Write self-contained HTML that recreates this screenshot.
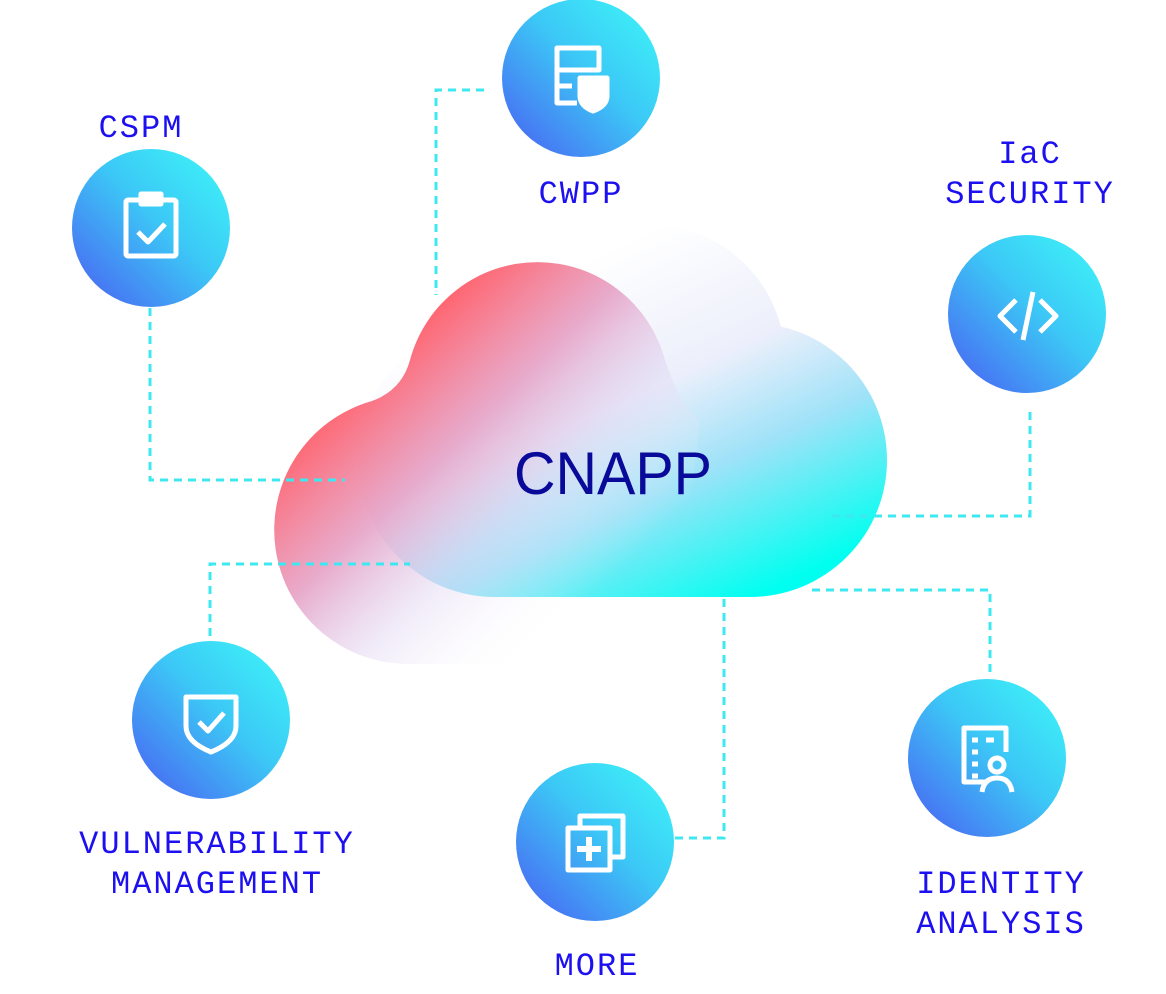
<!DOCTYPE html>
<html><head><meta charset="utf-8"><style>
html,body{margin:0;padding:0;background:#fff;}
svg{display:block}
.l{font-family:"Liberation Mono",monospace;font-size:32px;fill:#1c10f0;letter-spacing:2px;text-anchor:middle}
</style></head><body>
<svg width="1166" height="994" viewBox="0 0 1166 994">
<defs>
<linearGradient id="cg" x1="0" y1="1" x2="1" y2="0">
<stop offset="0" stop-color="#4a5cf2"/><stop offset="0.55" stop-color="#3cc8f6"/><stop offset="1" stop-color="#3ef8f8"/>
</linearGradient>
<linearGradient id="bgB" gradientUnits="userSpaceOnUse" x1="610" y1="250" x2="770" y2="590">
<stop offset="0" stop-color="#ffffff"/><stop offset="0.38" stop-color="#eceffb"/><stop offset="0.64" stop-color="#9fe2f8"/><stop offset="1" stop-color="#00fff0"/>
</linearGradient>
<linearGradient id="bgA" gradientUnits="userSpaceOnUse" x1="390" y1="350" x2="650" y2="620">
<stop offset="0" stop-color="#ff6570" stop-opacity="1"/><stop offset="0.3" stop-color="#e6a2c6" stop-opacity="0.9"/><stop offset="0.55" stop-color="#dcd0f0" stop-opacity="0.4"/><stop offset="0.85" stop-color="#ffffff" stop-opacity="0"/>
</linearGradient>
</defs>
<g fill="url(#bgB)">
<circle cx="650" cy="360" r="135"/>
<circle cx="750" cy="460" r="137"/>
<circle cx="495" cy="460" r="137"/>
<rect x="495" y="440" width="255" height="157"/>
</g>
<path fill="url(#bgA)" d="M410 664 A134 134 0 0 1 372 401 Q402 390 410 360 A132 132 0 0 1 665 360 Q680 405 700 420 Q690 540 640 664 Z"/>
<text x="613" y="494" font-family="Liberation Sans,sans-serif" font-size="60" fill="#0a0a9a" text-anchor="middle" textLength="198" lengthAdjust="spacingAndGlyphs">CNAPP</text>
<g fill="none" stroke="#3de8f0" stroke-width="3" stroke-dasharray="8 6">
<path d="M484 90 H436 V295"/>
<path d="M150 308 V480 H345"/>
<path d="M1030 412 V516 H830"/>
<path d="M210 636 V564 H410"/>
<path d="M675 838 H724 V597"/>
<path d="M990 672 V590 H812"/>
</g>
<g fill="url(#cg)">
<circle cx="581" cy="78" r="79"/>
<circle cx="151" cy="228" r="79"/>
<circle cx="1027" cy="314" r="79"/>
<circle cx="211" cy="720" r="79"/>
<circle cx="595" cy="842" r="79"/>
<circle cx="987" cy="758" r="79"/>
</g>
<g fill="none" stroke="#fff" stroke-width="5" stroke-linejoin="round">
<path d="M577 103 H557 V48 H599 V70 H557 M557 86 H572"/>
<path d="M580 78 H607 V96 Q607 106 593 111 Q580 106 580 96 Z" fill="#fff"/>
<rect x="126" y="200" width="50" height="56" rx="2"/>
<rect x="141" y="194" width="20" height="10" fill="#fff"/>
<path d="M138 232 L148 242 L165 224"/>
<path d="M1016 300 L1000 316 L1016 332 M1040 300 L1056 316 L1040 332 M1033 292 L1023 340"/>
<path d="M186 697 H236 V726 Q236 742 211 752 Q186 742 186 726 Z"/>
<path d="M199 722 L208 731 L224 713"/>
<path d="M580 828 V816 H623 V857 H610"/>
<rect x="568" y="828" width="42" height="42"/>
<path d="M589 837 V861 M577 849 H601" stroke-width="6"/>
<path d="M985 782 H964 V728 H1006 V752"/>
<path d="M972 740 H978 M986 740 H994 M972 752 H978 M972 764 H978 M972 776 H978"/>
<circle cx="997" cy="765" r="7"/>
<path d="M982 792 Q984 778 997 778 Q1010 778 1012 792"/>
</g>
<text class="l" x="141" y="137">CSPM</text>
<text class="l" x="581" y="203">CWPP</text>
<text class="l" x="1030" y="163">IaC</text>
<text class="l" x="1030" y="203">SECURITY</text>
<text class="l" x="217" y="853">VULNERABILITY</text>
<text class="l" x="217" y="893">MANAGEMENT</text>
<text class="l" x="597" y="975">MORE</text>
<text class="l" x="1001" y="893">IDENTITY</text>
<text class="l" x="1001" y="933">ANALYSIS</text>
</svg>
</body></html>
